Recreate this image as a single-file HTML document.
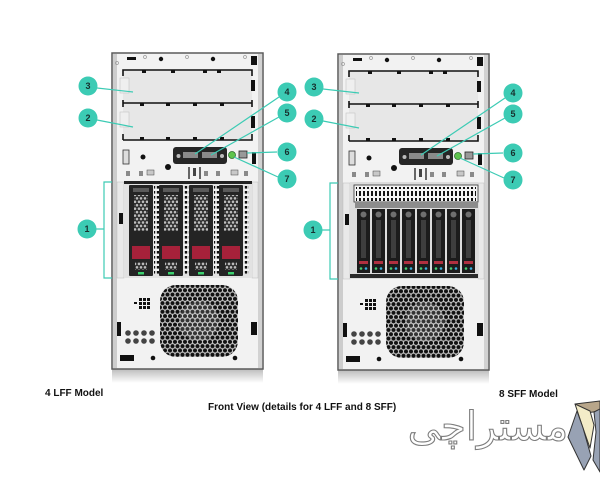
<!DOCTYPE html>
<html><head><meta charset="utf-8"><style>
html,body{margin:0;padding:0;background:#fff;}
svg{display:block;}
</style></head><body>
<svg width="600" height="500" viewBox="0 0 600 500" xmlns="http://www.w3.org/2000/svg">
<defs>
  <pattern id="hex" width="5" height="8.6" patternUnits="userSpaceOnUse">
    <rect width="5" height="8.6" fill="#c4c4c4"/>
    <circle cx="2.5" cy="2.15" r="2.05" fill="#111"/>
    <circle cx="0" cy="6.45" r="2.05" fill="#111"/>
    <circle cx="5" cy="6.45" r="2.05" fill="#111"/>
  </pattern>
  <pattern id="hexw" width="4" height="6.9" patternUnits="userSpaceOnUse">
    <rect width="4" height="6.9" fill="#2a2a2a"/>
    <circle cx="2" cy="1.7" r="1.3" fill="#bdbdbd"/>
    <circle cx="0" cy="5.15" r="1.3" fill="#bdbdbd"/>
    <circle cx="4" cy="5.15" r="1.3" fill="#bdbdbd"/>
  </pattern>
  <pattern id="perf" width="4" height="5" patternUnits="userSpaceOnUse">
    <rect width="4" height="5" fill="#f2f2f2"/>
    <rect x="0.8" y="1" width="2.4" height="2.6" fill="#111"/>
  </pattern>
  <pattern id="vent" width="4" height="7" patternUnits="userSpaceOnUse">
    <rect width="4" height="7" fill="#f4f4f4"/>
    <rect x="1" y="1" width="2" height="5" fill="#111"/>
  </pattern>
  <linearGradient id="refl" x1="0" y1="0" x2="0" y2="1">
    <stop offset="0" stop-color="#bcbcbc"/>
    <stop offset="1" stop-color="#ffffff"/>
  </linearGradient>

  <g id="srv">
    <rect x="112" y="369" width="151" height="14" fill="url(#refl)"/>
    <rect x="112" y="53" width="151" height="316" fill="#f2f2f2" stroke="#5a5a5a" stroke-width="1.5"/>
    <rect x="113" y="54" width="4" height="314" fill="#cdcdcd"/>
    <rect x="258" y="54" width="4" height="314" fill="#d2d2d2"/>
    <rect x="127" y="57" width="9" height="3" fill="#111"/>
    <circle cx="161" cy="59" r="2.2" fill="#111"/>
    <circle cx="213" cy="59" r="2.2" fill="#111"/>
    <rect x="251" y="56" width="6" height="9" fill="#111"/>
    <circle cx="145" cy="57" r="1.5" fill="none" stroke="#999" stroke-width="0.7"/>
    <circle cx="187" cy="57" r="1.5" fill="none" stroke="#999" stroke-width="0.7"/>
    <circle cx="245" cy="57" r="1.5" fill="none" stroke="#999" stroke-width="0.7"/>
    <circle cx="117" cy="63" r="1.5" fill="none" stroke="#999" stroke-width="0.7"/>
    <rect x="123" y="70" width="129" height="70" fill="#e7e7e7"/>
    <rect x="120" y="78" width="9" height="15" fill="#efefef" stroke="#c4c4c4" stroke-width="0.6"/>
    <rect x="120" y="112" width="9" height="15" fill="#efefef" stroke="#c4c4c4" stroke-width="0.6"/>
    <path d="M123 76 V70 H252 V76 M123 107 V100 M123 103 H252 M252 100 V107 M123 140 V134 M123 140 H252 V134" fill="none" stroke="#111" stroke-width="1.6"/>
    <g fill="#111">
      <rect x="142" y="70" width="4" height="3"/><rect x="171" y="70" width="4" height="3"/>
      <rect x="203" y="70" width="4" height="3"/><rect x="217" y="70" width="4" height="3"/>
      <rect x="140" y="103" width="4" height="3"/><rect x="166" y="103" width="4" height="3"/>
      <rect x="193" y="103" width="4" height="3"/><rect x="220" y="103" width="4" height="3"/>
      <rect x="140" y="137" width="4" height="3"/><rect x="166" y="137" width="4" height="3"/>
      <rect x="193" y="137" width="4" height="3"/><rect x="220" y="137" width="4" height="3"/>
      <rect x="251" y="80" width="4" height="11"/>
      <rect x="251" y="116" width="4" height="12"/>
    </g>
    <rect x="123" y="150" width="6" height="14" fill="#ddd" stroke="#333" stroke-width="0.8"/>
    <circle cx="143" cy="157" r="2.5" fill="#111"/>
    <circle cx="168" cy="167" r="3" fill="#111"/>
    <rect x="173" y="147" width="54" height="17" rx="3" fill="#262626"/>
    <rect x="183" y="152" width="15" height="6" fill="#8a8a8a"/>
    <rect x="202" y="152" width="15" height="6" fill="#8a8a8a"/>
    <circle cx="178.5" cy="156" r="2" fill="#bbb"/>
    <circle cx="222" cy="156" r="2" fill="#bbb"/>
    <circle cx="232" cy="155" r="3.5" fill="#5ec44d" stroke="#2a6a2a" stroke-width="0.8"/>
    <rect x="239" y="151" width="8" height="7" fill="#999" stroke="#222" stroke-width="0.8"/>
    <rect x="252" y="152" width="4" height="12" fill="#111"/>
    <g fill="#8a8a8a">
      <rect x="126" y="171" width="4" height="5"/><rect x="139" y="171" width="4" height="5"/>
      <rect x="147" y="170" width="7" height="5" fill="#c8c8c8" stroke="#444" stroke-width="0.5"/>
      <rect x="188" y="167" width="2" height="12" fill="#666"/><rect x="193" y="168" width="3" height="8" fill="#444"/>
      <rect x="199" y="167" width="2" height="12" fill="#666"/>
      <rect x="204" y="171" width="4" height="5"/><rect x="216" y="171" width="4" height="5"/>
      <rect x="231" y="170" width="7" height="5" fill="#c8c8c8" stroke="#444" stroke-width="0.5"/>
      <rect x="244" y="171" width="4" height="5"/>
    </g>
    <rect x="117" y="182" width="7" height="96" fill="#e9e9e9" stroke="#bbb" stroke-width="0.5"/>
    <rect x="119" y="213" width="4" height="11" fill="#111"/>
    <rect x="252" y="182" width="6" height="96" fill="#e9e9e9" stroke="#bbb" stroke-width="0.5"/>
    <rect x="160" y="285" width="78" height="72" rx="16" fill="url(#hex)"/>
    <circle cx="199" cy="321" r="20" fill="#ffffff" opacity="0.15"/>
    <g fill="#111">
      <rect x="139" y="298" width="3" height="3"/><rect x="143" y="298" width="3" height="3"/><rect x="147" y="298" width="3" height="3"/>
      <rect x="139" y="302" width="3" height="3"/><rect x="143" y="302" width="3" height="3"/><rect x="147" y="302" width="3" height="3"/>
      <rect x="139" y="306" width="3" height="3"/><rect x="143" y="306" width="3" height="3"/><rect x="147" y="306" width="3" height="3"/>
      <rect x="134" y="302" width="3" height="2"/>
      <rect x="117" y="322" width="4" height="14"/>
      <rect x="251" y="322" width="6" height="13"/>
      <rect x="120" y="355" width="14" height="6"/>
      <circle cx="153" cy="358" r="2.3"/>
      <circle cx="235" cy="358" r="2.3"/>
    </g>
    <g fill="#444">
      <circle cx="128" cy="333" r="2.8"/><circle cx="136" cy="333" r="2.8"/><circle cx="144" cy="333" r="2.8"/><circle cx="152" cy="333" r="2.8"/>
      <circle cx="128" cy="341" r="2.8"/><circle cx="136" cy="341" r="2.8"/><circle cx="144" cy="341" r="2.8"/><circle cx="152" cy="341" r="2.8"/>
    </g>
    <g stroke="#3ccbb4" stroke-width="1.2" fill="none">
      <path d="M97 88 L133 92"/>
      <path d="M97 120 L133 127"/>
      <path d="M96 229 H104 M112 182 H104 V278 H112"/>
      <path d="M279 97 L195 154"/>
      <path d="M279 117 L211 155"/>
      <path d="M277 152 L247 153"/>
      <path d="M278 177 L234 157"/>
    </g>
    <g fill="#3ccbb4">
      <circle cx="88" cy="86" r="9.5"/>
      <circle cx="88" cy="118" r="9.5"/>
      <circle cx="87" cy="229" r="9.5"/>
      <circle cx="287" cy="92" r="9.5"/>
      <circle cx="287" cy="113" r="9.5"/>
      <circle cx="287" cy="152" r="9.5"/>
      <circle cx="287" cy="179" r="9.5"/>
    </g>
    <g font-family="Liberation Sans, sans-serif" font-weight="bold" font-size="9" fill="#17302e" text-anchor="middle">
      <text x="88" y="89.2">3</text>
      <text x="88" y="121.2">2</text>
      <text x="87" y="232.2">1</text>
      <text x="287" y="95.2">4</text>
      <text x="287" y="116.2">5</text>
      <text x="287" y="155.2">6</text>
      <text x="287" y="182.2">7</text>
    </g>
  </g>

  <g id="lff">
    <rect x="124" y="181" width="128" height="97" fill="#e2e2e2"/>
    <rect x="124" y="181" width="128" height="3" fill="#222"/>
    <rect x="154" y="186" width="5" height="88" fill="url(#perf)"/>
    <rect x="184" y="186" width="5" height="88" fill="url(#perf)"/>
    <rect x="214" y="186" width="5" height="88" fill="url(#perf)"/>
    <rect x="244" y="186" width="5" height="88" fill="url(#perf)"/>
  </g>
  <g id="drv">
    <rect x="0" y="185" width="24" height="91" rx="1" fill="#242424"/>
    <rect x="4" y="188" width="16" height="4" fill="#5a5a5a"/>
    <rect x="5" y="195" width="14" height="36" fill="url(#hexw)"/>
    <rect x="3" y="246" width="18" height="13" fill="#a6213a"/>
    <rect x="6" y="262" width="12" height="8" fill="url(#hexw)"/>
    <rect x="9" y="272" width="6" height="2.5" fill="#3bd16f"/>
  </g>
  <g id="sff">
    <rect x="0" y="209" width="13" height="64" fill="#1c1c1c"/>
    <circle cx="6.5" cy="214.5" r="3" fill="#6e6e6e"/>
    <rect x="4" y="220" width="5" height="38" fill="#3e3e3e"/>
    <rect x="2" y="261" width="9" height="3" fill="#b03040"/>
    <circle cx="4" cy="268.5" r="1.3" fill="#44d070"/>
    <circle cx="9" cy="268.5" r="1.3" fill="#3ab0e0"/>
  </g>
</defs>

<rect width="600" height="500" fill="#fff"/>

<use href="#srv"/>
<use href="#lff"/>
<use href="#drv" x="129"/>
<use href="#drv" x="159"/>
<use href="#drv" x="189"/>
<use href="#drv" x="219"/>

<g transform="translate(226,1)">
  <use href="#srv"/>
  <rect x="124" y="181" width="128" height="97" fill="#dcdcdc"/>
  <rect x="128" y="184" width="124" height="17" fill="#f4f4f4" stroke="#333" stroke-width="0.8"/>
  <rect x="130" y="186" width="120" height="14" fill="url(#vent)"/>
  <rect x="129" y="201" width="123" height="6" fill="#8c8c8c"/>
  <rect x="124" y="273" width="128" height="4" fill="#2a2a2a"/>
</g>
<use href="#sff" x="357"/>
<use href="#sff" x="372"/>
<use href="#sff" x="387"/>
<use href="#sff" x="402"/>
<use href="#sff" x="417"/>
<use href="#sff" x="432"/>
<use href="#sff" x="447"/>
<use href="#sff" x="462"/>

<g font-family="Liberation Sans, Arial, sans-serif" font-weight="bold" font-size="10" fill="#111">
  <text x="45" y="396">4 LFF Model</text>
  <text x="208" y="410">Front View (details for 4 LFF and 8 SFF)</text>
  <text x="499" y="397">8 SFF Model</text>
</g>

<text x="488" y="440" text-anchor="middle" font-family="DejaVu Sans, sans-serif" font-size="40" fill="#ffffff" stroke="#7d7d7d" stroke-width="1.1">مستراچی</text>

<g stroke="#333" stroke-width="1" stroke-linejoin="round">
  <polygon points="575,404 600,401 600,411 586,413" fill="#b8a68a"/>
  <polygon points="575,404 590,411 594,425 590,448 582,425" fill="#f3ecc8"/>
  <polygon points="577,411 568,437 584,470 591,456 583,428" fill="#98a2b4"/>
  <polygon points="594,412 600,409 600,472 593,460 596,432" fill="#98a2b4"/>
</g>
</svg>
</body></html>
